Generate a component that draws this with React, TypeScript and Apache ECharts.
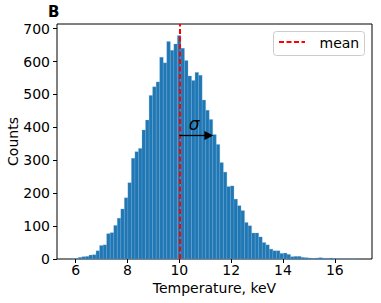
import React, { useEffect, useRef } from "react";
import * as echarts from "echarts";

// ---- data ----
const BIN_START = 5.834;
const BIN_WIDTH = 0.1364;
const COUNTS = [
  1, 2, 5, 7, 8, 12, 13, 25, 41, 43,
  77, 80, 102, 124, 152, 186, 232, 306, 326, 336,
  392, 422, 497, 523, 538, 613, 596, 661, 634, 653,
  679, 640, 603, 556, 542, 567, 558, 483, 452, 424,
  378, 348, 293, 264, 220, 222, 182, 162, 147, 111,
  101, 79, 79, 67, 50, 43, 30, 25, 25, 17,
  18, 14, 7, 8, 8, 5, 4, 3, 2, 3,
  4, 2, 2, 3, 1, 1, 1, 0, 1, 0,
  1,
];
const X_TICKS = [6, 8, 10, 12, 14, 16];
const Y_TICKS = [0, 100, 200, 300, 400, 500, 600, 700];
const X_MIN = 5.282;
const X_MAX = 17.434;
const Y_MAX = 714;
const MEAN = 10;
const SIGMA_ARROW_END = 11.14;
const SIGMA_Y = 375;
const TITLE = "B";
const X_NAME = "Temperature, keV";
const Y_NAME = "Counts";
const LEGEND_LABEL = "mean";
const SIGMA_LABEL = "σ";

const FONT = "DejaVu Sans";
const FS = 14;

export default function App() {
  const ref = useRef<HTMLDivElement>(null);
  useEffect(() => {
    if (!ref.current) return;
    const chart = echarts.init(ref.current, undefined, { renderer: "svg" });
    const histData = COUNTS.map((c, i) => [
      BIN_START + i * BIN_WIDTH,
      BIN_START + (i + 1) * BIN_WIDTH,
      c,
    ]);
    chart.setOption({
      animation: false,
      textStyle: { fontFamily: FONT },
      title: {
        text: TITLE,
        left: 48,
        top: 4,
        padding: 0,
        textStyle: { fontFamily: FONT, fontSize: 15, fontWeight: "bold", color: "#000" },
      },
      grid: {
        left: 57,
        right: 9,
        top: 24,
        bottom: 44,
        containLabel: false,
        outerBoundsMode: "none",
        show: true,
        borderColor: "#000",
        borderWidth: 1,
        backgroundColor: "transparent",
      },
      xAxis: {
        type: "value",
        min: X_MIN,
        max: X_MAX,
        name: X_NAME,
        nameLocation: "middle",
        nameGap: 22,
        nameMoveOverlap: false,
        nameTextStyle: { fontFamily: FONT, fontSize: FS, color: "#000" },
        axisLine: { show: false },
        splitLine: { show: false },
        axisTick: {
          show: true,
          length: 4,
          lineStyle: { color: "#000", width: 1 },
          customValues: X_TICKS,
        },
        axisLabel: {
          margin: 4,
          fontFamily: FONT,
          fontSize: FS,
          color: "#000",
          customValues: X_TICKS,
        },
      },
      yAxis: {
        type: "value",
        min: 0,
        max: Y_MAX,
        name: Y_NAME,
        nameLocation: "middle",
        nameGap: 37,
        nameRotate: 90,
        nameMoveOverlap: false,
        nameTextStyle: { fontFamily: FONT, fontSize: FS, color: "#000" },
        axisLine: { show: false },
        splitLine: { show: false },
        axisTick: {
          show: true,
          length: 4,
          lineStyle: { color: "#000", width: 1 },
          customValues: Y_TICKS,
        },
        axisLabel: {
          margin: 7,
          fontFamily: FONT,
          fontSize: FS,
          color: "#000",
          customValues: Y_TICKS,
        },
      },
      series: [
        {
          type: "custom",
          name: "hist",
          data: histData,
          encode: { x: [0, 1], y: 2 },
          renderItem: (params: any, api: any) => {
            const p0 = api.coord([api.value(0), api.value(2)]);
            const p1 = api.coord([api.value(1), 0]);
            return {
              type: "rect",
              shape: { x: p0[0], y: p0[1], width: p1[0] - p0[0], height: p1[1] - p0[1] },
              style: { fill: "#1f77b4", stroke: "rgba(120,170,215,0.55)", lineWidth: 0.5 },
            };
          },
          z: 1,
        },
        {
          type: "line",
          name: "mean",
          data: [],
          z: 3,
          markLine: {
            silent: true,
            symbol: "none",
            animation: false,
            label: { show: false },
            lineStyle: { color: "#ff0000", width: 2, type: [5, 2.5] },
            data: [{ xAxis: MEAN }],
          },
        },
        {
          type: "line",
          name: "sigma",
          data: [],
          z: 4,
          markLine: {
            silent: true,
            animation: false,
            symbol: ["none", "triangle"],
            symbolSize: 9,
            itemStyle: { color: "#000" },
            lineStyle: { color: "#000", width: 1.3, type: "solid" },
            label: {
              show: true,
              formatter: SIGMA_LABEL,
              position: "middle",
              distance: 3,
              fontFamily: FONT,
              fontStyle: "italic",
              fontSize: 17,
              color: "#000",
            },
            data: [[{ coord: [MEAN, SIGMA_Y] }, { coord: [SIGMA_ARROW_END, SIGMA_Y] }]],
          },
        },
      ],
      graphic: [
        {
          type: "rect",
          z: 10,
          shape: { x: 273.5, y: 31.5, width: 91, height: 24, r: 3 },
          style: { fill: "rgba(255,255,255,0.8)", stroke: "#cccccc", lineWidth: 1 },
        },
        {
          type: "line",
          z: 11,
          shape: { x1: 279, y1: 42, x2: 305, y2: 42 },
          style: { stroke: "#ff0000", lineWidth: 2, lineDash: [5, 2.5] },
        },
        {
          type: "text",
          z: 11,
          x: 319.5,
          y: 42.5,
          style: {
            text: LEGEND_LABEL,
            fontFamily: FONT,
            fontSize: FS,
            fill: "#000",
            verticalAlign: "middle",
            align: "left",
          },
        },
      ],
    });
    return () => chart.dispose();
  }, []);
  return (
    <div
      ref={ref}
      style={{ position: "fixed", left: 0, top: 0, width: 381, height: 303, background: "#fff" }}
    />
  );
}
